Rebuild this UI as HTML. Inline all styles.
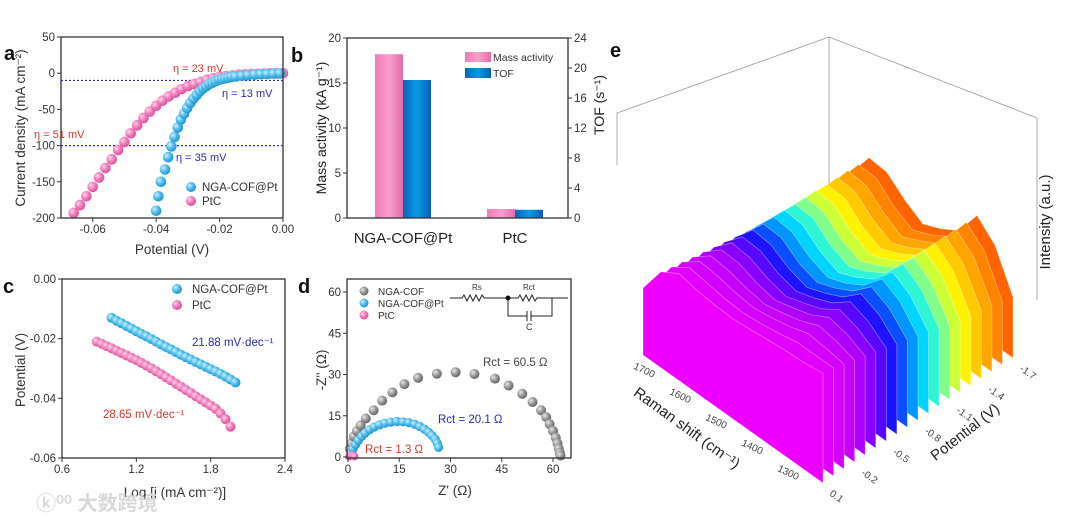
<!DOCTYPE html>
<html><head><meta charset="utf-8"><style>
html,body{margin:0;padding:0;background:#fff;}
svg{display:block;font-family:"Liberation Sans","Noto Sans CJK SC",sans-serif;}
</style></head><body>
<svg id="chart" width="1080" height="522" viewBox="0 0 1080 522" xmlns="http://www.w3.org/2000/svg">
<defs>
<radialGradient id="gPink" cx="0.35" cy="0.35" r="0.7"><stop offset="0" stop-color="#ffd6ec"/><stop offset="0.5" stop-color="#f27cbc"/><stop offset="1" stop-color="#d94d98"/></radialGradient>
<radialGradient id="gBlue" cx="0.35" cy="0.35" r="0.7"><stop offset="0" stop-color="#d2f0ff"/><stop offset="0.5" stop-color="#4cbdf0"/><stop offset="1" stop-color="#1f8fc8"/></radialGradient>
<radialGradient id="gGray" cx="0.35" cy="0.35" r="0.7"><stop offset="0" stop-color="#e6e6e6"/><stop offset="0.5" stop-color="#9a9a9a"/><stop offset="1" stop-color="#5e5e5e"/></radialGradient>
<linearGradient id="barPink" x1="0" x2="1"><stop offset="0" stop-color="#f07ab8"/><stop offset="0.5" stop-color="#f7a0cf"/><stop offset="1" stop-color="#e46aa9"/></linearGradient>
<linearGradient id="barBlue" x1="0" x2="1"><stop offset="0" stop-color="#0a63b8"/><stop offset="0.5" stop-color="#0a9ae8"/><stop offset="1" stop-color="#0a5fb0"/></linearGradient>
</defs>
<g id="layer"></g>
</svg>
<script>
// ---------- Panel a data ----------
const aPtcV = [-0.066,-0.064,-0.062,-0.060,-0.058,-0.056,-0.054,-0.052,-0.050,-0.048,-0.046,-0.044,-0.042,-0.040,-0.038,-0.036,-0.034,-0.032,-0.030,-0.028,-0.026,-0.024,-0.022,-0.020,-0.018,-0.016,-0.014,-0.012,-0.010,-0.008,-0.006,-0.004,-0.002,0.000];
const aPtcJ = [-193,-182,-170,-157,-144,-131,-119,-106,-95,-83,-72,-62,-53,-45,-38,-32,-27,-22,-18,-15,-12,-9,-7,-5,-4,-3,-2,-1.5,-1,-0.6,-0.4,-0.2,-0.1,0];
const aNgaV = [-0.040,-0.0393,-0.0385,-0.0372,-0.0362,-0.0352,-0.0342,-0.0332,-0.0322,-0.0312,-0.0302,-0.0292,-0.0282,-0.0272,-0.0262,-0.0252,-0.0242,-0.0232,-0.0222,-0.0212,-0.0202,-0.0192,-0.0182,-0.0172,-0.0162,-0.0150,-0.0130,-0.0110,-0.0090,-0.0070,-0.0050,-0.0030,-0.0010];
const aNgaJ = [-190,-170,-150,-133,-116,-101,-88,-75,-64,-56,-48,-41,-35,-30,-25,-21,-18,-15,-13,-11,-9,-8,-7,-6,-5,-4.5,-3.5,-2.7,-2,-1.4,-1,-0.6,-0.3];
const aXTicks = [-0.06,-0.04,-0.02,0.00];
const aXTickLabels = ["-0.06","-0.04","-0.02","0.00"];
const aYTicks = [50,0,-50,-100,-150,-200];
const aRefLines = [-10,-100];
// ---------- Panel b data ----------
const bCategories = ["NGA-COF@Pt","PtC"];
const bMassActivity = [18.2,1.0];
const bTOF = [18.4,1.1];
const bYTicks = [0,5,10,15,20];
const bY2Ticks = [0,4,8,12,16,20,24];
// ---------- Panel c data ----------
const cNgaX = [1.00,1.04,1.08,1.12,1.16,1.20,1.24,1.28,1.32,1.36,1.40,1.44,1.48,1.52,1.56,1.60,1.64,1.68,1.72,1.76,1.80,1.84,1.88,1.92,1.96,2.00];
const cNgaY = [-0.0130,-0.0140,-0.0148,-0.0157,-0.0166,-0.0175,-0.0184,-0.0192,-0.0201,-0.0210,-0.0219,-0.0228,-0.0236,-0.0245,-0.0254,-0.0262,-0.0270,-0.0278,-0.0286,-0.0294,-0.0302,-0.0310,-0.0318,-0.0327,-0.0337,-0.0347];
const cPtcX = [0.88,0.92,0.96,1.00,1.04,1.08,1.12,1.16,1.20,1.24,1.28,1.32,1.36,1.40,1.44,1.48,1.52,1.56,1.60,1.64,1.68,1.72,1.76,1.80,1.84,1.88,1.92,1.96];
const cPtcY = [-0.0210,-0.0217,-0.0225,-0.0232,-0.0240,-0.0248,-0.0256,-0.0264,-0.0272,-0.0281,-0.0290,-0.0299,-0.0309,-0.0319,-0.0330,-0.0340,-0.0351,-0.0361,-0.0372,-0.0382,-0.0393,-0.0403,-0.0414,-0.0424,-0.0435,-0.0451,-0.0470,-0.0495];
const cXTicks = [0.6,1.2,1.8,2.4];
const cYTicks = [0,-0.02,-0.04,-0.06];
const cYTickLabels = ["0.00","-0.02","-0.04","-0.06"];
// ---------- Panel d data ----------
const dCofX = [0.5,1,1.7,2.6,3.7,5.2,7.5,10,13,16.5,20.5,26,31.5,37,43,47,51,54,56.5,58,59,60,60.8,61.3,61.7,62,62.2];
const dCofY = [3,5,7.5,9.5,11.5,14,17,20.5,23.5,26.5,28.8,30.3,30.8,30.2,28.5,26,23,20,17,14.5,12,9.5,7,5,3,1.5,0.5];
const dPtX = [1,1.5,2.2,3,4,5,6.3,7.7,9.2,10.8,12.5,14.3,16.1,17.8,19.5,21,22.4,23.6,24.6,25.5,26.1,26.5];
const dPtY = [1.5,3,4.5,6,7.5,8.7,9.9,10.9,11.7,12.3,12.7,12.9,12.8,12.5,11.9,11.1,10.1,9,7.8,6.5,5,3.5];
const dPtcX = [0.3,0.7,1.1,1.5,1.9];
const dPtcY = [0.2,0.5,0.6,0.5,0.2];
const dTicks = [0,15,30,45,60];
// ---------- Panel e data ----------
const eRaman = [1250,1300,1350,1400,1450,1500,1550,1600,1650,1700,1750];
const ePotentials = [0.1,0.0,-0.1,-0.2,-0.3,-0.4,-0.5,-0.6,-0.7,-0.8,-0.9,-1.0,-1.1,-1.2,-1.3,-1.4,-1.5,-1.6,-1.7];
const eIntensity = [
[110,107,106,104,102,100,101,103,107,96,67],
[108,108,108,104,101,99,100,103,106,94,64],
[105,108,110,104,100,97,99,103,105,92,62],
[102,108,111,103,98,94,97,102,104,90,60],
[99,108,112,102,96,91,95,102,103,88,57],
[96,107,113,101,94,88,93,101,103,86,55],
[93,107,114,100,92,86,91,101,102,84,53],
[90,107,115,99,90,83,89,100,102,82,51],
[87,106,115,98,88,81,87,100,101,80,49],
[84,106,116,97,86,79,86,99,101,79,47],
[81,105,116,96,85,77,85,99,101,78,45],
[78,105,117,95,84,76,84,99,100,77,44],
[75,104,117,94,83,75,83,98,100,76,42],
[72,104,117,93,82,74,83,98,100,75,41],
[70,103,117,92,81,73,82,98,99,74,39],
[68,102,117,91,80,72,82,97,99,73,38],
[66,102,117,90,80,71,82,97,99,72,37],
[63,101,117,90,79,71,81,97,98,71,36],
[61,100,117,89,78,70,81,96,98,70,35]];
const eRamanTicks = [1300,1400,1500,1600,1700];
const ePotTicks = [0.1,-0.2,-0.5,-0.8,-1.1,-1.4,-1.7];
const ePotTickLabels = ["0.1","-0.2","-0.5","-0.8","-1.1","-1.4","-1.7"];

const NS = "http://www.w3.org/2000/svg";
const root = document.getElementById('layer');
function mk(tag, attrs, parent){const e=document.createElementNS(NS,tag);for(const k in attrs)e.setAttribute(k,attrs[k]);(parent||root).appendChild(e);return e;}
function txt(s, attrs, parent){const e=mk('text',attrs,parent);e.textContent=s;return e;}
function lin(d0,d1,r0,r1){return v=>r0+(v-d0)*(r1-r0)/(d1-d0);}
function grp(name){const g=mk('g',{});return g;}

function frame(name,x0,y0,x1,y1){const r=mk('rect',{x:x0,y:y0,width:x1-x0,height:y1-y0,fill:'none',stroke:'#333','stroke-width':1.3});}
function yTicks(g,ticks,labels,sc,x,side){ticks.forEach((t,i)=>{const y=sc(t);mk('line',{x1:x,x2:x+(side<0?-4:4),y1:y,y2:y,stroke:'#333','stroke-width':1},g);const l=txt(labels[i],{x:side<0?x-6:x+6,y:y+4,'font-size':11.5,fill:'#333','text-anchor':side<0?'end':'start'},g);});}
function xTicks(g,ticks,labels,sc,y){ticks.forEach((t,i)=>{const x=sc(t);mk('line',{x1:x,x2:x,y1:y,y2:y+4,stroke:'#333','stroke-width':1},g);const l=txt(labels[i],{x:x,y:y+15,'font-size':11.5,fill:'#333','text-anchor':'middle'},g);});}
function spheres(g,xs,ys,sx,sy,grad,r){xs.forEach((v,i)=>{const c=mk('circle',{cx:sx(v),cy:sy(ys[i]),r:r,fill:'url(#'+grad+')'},g);});}
function label(s,x,y,size,color,extra){const l=txt(s,Object.assign({x:x,y:y,'font-size':size,fill:color},extra||{}));return l;}
function panelLetter(s,x,y){const l=txt(s,{x:x,y:y,'font-size':20,'font-weight':'bold',fill:'#111'});}

// ================= Panel a =================
(function(){
const ax=lin(-0.07,0,61,283), ay=lin(-200,50,218,37);
const g=grp('panel-a');
panelLetter('a',4,60);
aRefLines.forEach(v=>{const l=mk('line',{x1:61,x2:283,y1:ay(v),y2:ay(v),stroke:'#2a2ad0','stroke-width':1.2,'stroke-dasharray':'2,2'},g);});
spheres(g,aPtcV,aPtcJ,ax,ay,'gPink',5.3);
spheres(g,aNgaV,aNgaJ,ax,ay,'gBlue',5.3);
frame('plot-frame-a',61,37,283,218);
yTicks(g,aYTicks,aYTicks.map(String),ay,61,-1);
xTicks(g,aXTicks,aXTickLabels,ax,218);
label('η = 23 mV',173,72,11,'#d8352a');
label('η = 13 mV',222,97,11,'#2a2abd');
label('η = 51 mV',34,138,11,'#d8352a');
label('η = 35 mV',176,161,11,'#2a2abd');
mk('circle',{cx:191,cy:187,r:5,fill:'url(#gBlue)'},g);
label('NGA-COF@Pt',202,191,11.5,'#333');
mk('circle',{cx:191,cy:201,r:5,fill:'url(#gPink)'},g);
label('PtC',202,205,11.5,'#333');
label('Potential (V)',172,254,13.5,'#333',{'text-anchor':'middle'});
label('Current density (mA cm⁻²)',0,0,13.5,'#333',{'text-anchor':'middle',transform:'translate(25,128) rotate(-90)'});
})();

// ================= Panel b =================
(function(){
const by=lin(0,20,218,38), by2=lin(0,24,218,38);
const g=grp('panel-b');
panelLetter('b',291,62);
const groupLeft=[375,487], bw=28;
bCategories.forEach((c,i)=>{
 const h1=mk('rect',{x:groupLeft[i],y:by(bMassActivity[i]),width:bw,height:218-by(bMassActivity[i]),fill:'url(#barPink)'},g);
 
 
 const h2=mk('rect',{x:groupLeft[i]+bw,y:by2(bTOF[i]),width:bw,height:218-by2(bTOF[i]),fill:'url(#barBlue)'},g);
 
 
 const l=txt(c,{x:groupLeft[i]+bw,y:243,'font-size':15,fill:'#222','text-anchor':'middle'},g);
 
 
});
frame('plot-frame-b',347,38,568,218);
yTicks(g,bYTicks,bYTicks.map(String),by,347,-1);
yTicks(g,bY2Ticks,bY2Ticks.map(String),by2,568,1);
mk('rect',{x:465,y:52,width:26,height:10,fill:'url(#barPink)'},g);
label('Mass activity',493,61,10.5,'#333');
mk('rect',{x:465,y:68,width:26,height:10,fill:'url(#barBlue)'},g);
label('TOF',493,77,10.5,'#333');
label('Mass activity (kA g⁻¹)',0,0,14,'#222',{'text-anchor':'middle',transform:'translate(326,128) rotate(-90)'});
label('TOF (s⁻¹)',0,0,14,'#222',{'text-anchor':'middle',transform:'translate(604,105) rotate(-90)'});
})();

// ================= Panel c =================
(function(){
const cx=lin(0.6,2.4,62,285), cy=lin(-0.06,0,458,279);
const g=grp('panel-c');
panelLetter('c',3,293);
spheres(g,cNgaX,cNgaY,cx,cy,'gBlue',5);
spheres(g,cPtcX,cPtcY,cx,cy,'gPink',5);
frame('plot-frame-c',62,279,285,458);
yTicks(g,cYTicks,cYTickLabels,cy,62,-1);
xTicks(g,cXTicks,cXTicks.map(v=>v.toFixed(1)),cx,458);
mk('circle',{cx:177,cy:289,r:5,fill:'url(#gBlue)'},g);
label('NGA-COF@Pt',192,293,11.5,'#333');
mk('circle',{cx:177,cy:305,r:5,fill:'url(#gPink)'},g);
label('PtC',192,309,11.5,'#333');
label('21.88 mV·dec⁻¹',192,346,11.5,'#2a2abd');
label('28.65 mV·dec⁻¹',103,418,11.5,'#d8352a');
label('Log [j (mA cm⁻²)]',175,497,13.5,'#333',{'text-anchor':'middle'});
label('Potential (V)',0,0,13.5,'#333',{'text-anchor':'middle',transform:'translate(25,370) rotate(-90)'});
})();

// ================= Panel d =================
(function(){
const dx=lin(0,60,348,553), dy=lin(0,60,457,292);
const g=grp('panel-d');
panelLetter('d',298,293);
spheres(g,dCofX,dCofY,dx,dy,'gGray',5);
spheres(g,dPtX,dPtY,dx,dy,'gBlue',4.6);
spheres(g,dPtcX,dPtcY,dx,dy,'gPink',4);
frame('plot-frame-d',347,279,571,458);
yTicks(g,dTicks,dTicks.map(String),dy,347,-1);
xTicks(g,dTicks,dTicks.map(String),dx,458);
const leg=[['gGray','NGA-COF',291],['gBlue','NGA-COF@Pt',303],['gPink','PtC',315]];
leg.forEach(l=>{const c=mk('circle',{cx:364,cy:l[2],r:4.5,fill:'url(#'+l[0]+')'},g);label(l[1],378,l[2]+4,10,'#333');});
// circuit inset
const ci=grp('equivalent-circuit');
mk('path',{d:'M450 298 H462 l2 -3 l3 6 l3 -6 l3 6 l3 -6 l3 6 l3 -6 l2 3 H518 l2 -3 l3 6 l3 -6 l3 6 l3 -6 l3 6 l2 -3 H568 M508 298 V316 H527 M531 316 H552 V298 M527 311 V321 M531 311 V321',fill:'none',stroke:'#222','stroke-width':1},ci);
mk('circle',{cx:508,cy:298,r:2.5,fill:'#111'},ci);
label('Rs',472,290,8,'#333');
label('Rct',523,290,8,'#333');
label('C',526,330,9,'#333');
label('Rct = 60.5 Ω',483,366,11.5,'#444');
label('Rct = 20.1 Ω',438,423,11.5,'#2a2abd');
label('Rct = 1.3 Ω',365,453,11.5,'#d8352a');
label("Z' (Ω)",455,495,13.5,'#333',{'text-anchor':'middle'});
label("-Z'' (Ω)",0,0,13.5,'#333',{'text-anchor':'middle',transform:'translate(326,370) rotate(-90)'});
})();

// ================= Panel e =================
(function(){
const g=grp('panel-e');
panelLetter('e',610,57);
// box outline
const bx=mk('path',{d:'M829 37 L617 113 L617 165 M829 37 L1037 118 L1037 300 M829 37 L829 196',fill:'none',stroke:'#999','stroke-width':0.8},g);


const rf=r=>(r-1250)/500, pf=p=>(0.1-p)/1.8;
function proj(r,p,h){return [823-180*rf(r)+190*pf(p), 483-128*rf(r)-125*pf(p)-h];}
const stops=[[0,[238,0,255]],[0.2,[190,0,255]],[0.3,[120,0,255]],[0.4,[20,20,255]],[0.5,[0,150,255]],[0.58,[0,240,255]],[0.68,[150,255,120]],[0.76,[255,255,0]],[0.88,[255,170,0]],[1,[255,100,0]]];
function col(t){for(let i=1;i<stops.length;i++){if(t<=stops[i][0]){const a=stops[i-1],b=stops[i];const f=(t-a[0])/(b[0]-a[0]);return 'rgb('+a[1].map((v,k)=>Math.round(v+(b[1][k]-v)*f)).join(',')+')';}}return 'rgb(255,100,0)';}
for(let i=ePotentials.length-1;i>=0;i--){
 const p=ePotentials[i];
 const pts=eRaman.map((r,j)=>proj(r,p,eIntensity[i][j]));
 pts.push(proj(eRaman[eRaman.length-1],p,0));
 pts.push(proj(eRaman[0],p,0));
 const poly=mk('polygon',{points:pts.map(q=>q[0].toFixed(1)+','+q[1].toFixed(1)).join(' '),fill:col(pf(p)),stroke:'rgba(255,255,255,0.45)','stroke-width':0.7,'stroke-linejoin':'round'},g);
 
 
}
eRamanTicks.forEach(r=>{const q=proj(r,0.1,0);const l=txt(String(r),{x:0,y:0,'font-size':10,fill:'#444','text-anchor':'end',transform:'translate('+(q[0]-8)+','+(q[1]+10)+') rotate(25)'},g);});
ePotTicks.forEach((p,i)=>{const q=proj(1250,p,0);const l=txt(ePotTickLabels[i],{x:0,y:0,'font-size':10,fill:'#444',transform:'translate('+(q[0]+6)+','+(q[1]+12)+') rotate(35)'},g);});
label('Raman shift (cm⁻¹)',0,0,15,'#222',{'text-anchor':'middle',transform:'translate(684,432) rotate(36)'});
label('Potential (V)',0,0,15,'#222',{'text-anchor':'middle',transform:'translate(968,436) rotate(-38)'});
label('Intensity (a.u.)',0,0,15,'#222',{'text-anchor':'middle',transform:'translate(1050,222) rotate(-90)'});
})();

// watermark
const wm=txt('ⓚ⁰⁰ 大数跨境',{x:36,y:510,'font-size':20,fill:'#d8d8d8','font-weight':'bold'});


</script>
</body></html>
